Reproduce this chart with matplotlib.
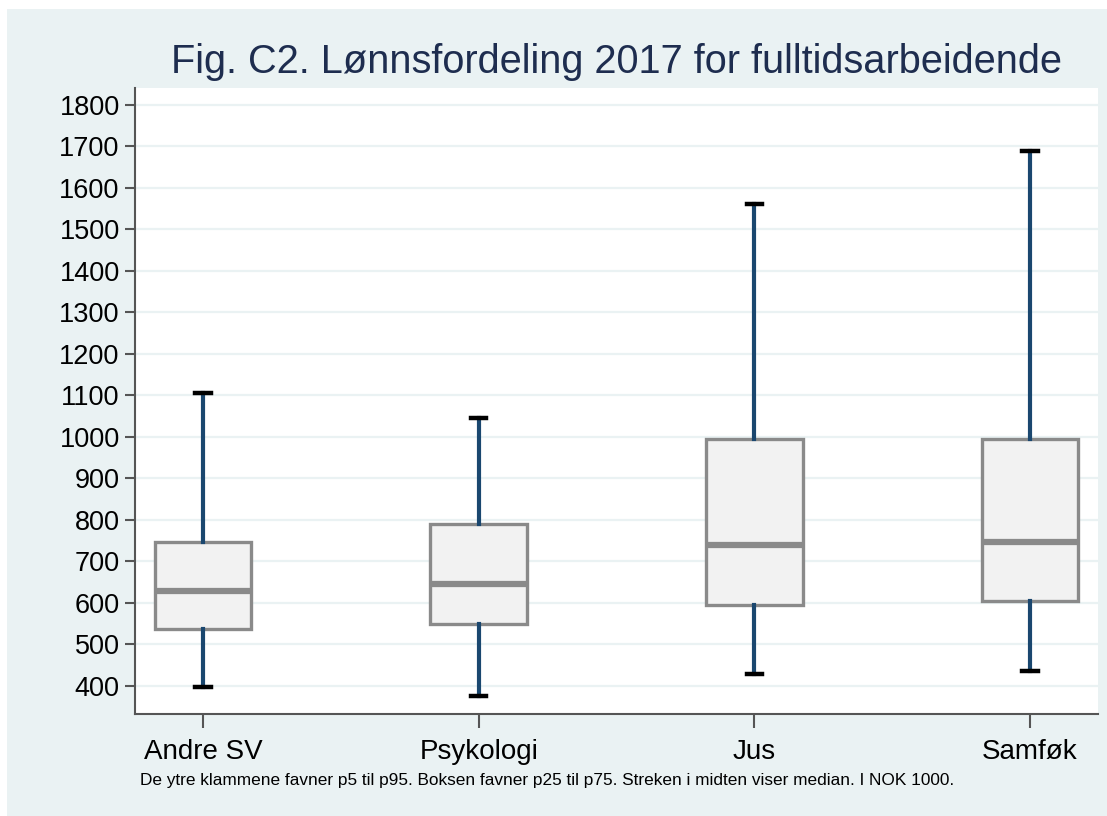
import matplotlib
matplotlib.use("Agg")
import matplotlib.pyplot as plt
from matplotlib.patches import Rectangle

# Lønnsfordeling 2017, NOK 1000
groups = ["Andre SV", "Psykologi", "Jus", "Samføk"]
p5 = [397, 376, 429, 436]
p25 = [536, 548, 595, 605]
median = [629, 646, 739, 747]
p75 = [746, 790, 995, 994]
p95 = [1105, 1046, 1561, 1689]
yticks = list(range(400, 1900, 100))

bg = "#eaf2f3"
navy = "#1a476f"
plt.rcParams["font.family"] = ["Liberation Sans", "DejaVu Sans"]

fig = plt.figure(figsize=(11.07, 8.16), dpi=100)
fig.patch.set_facecolor("white")
fig.patches.append(Rectangle((7 / 1107, 0), 1, 1 - 9 / 816, transform=fig.transFigure,
                             facecolor=bg, edgecolor="none", zorder=-10))

ax = fig.add_axes([135 / 1107, 1 - 714 / 816, (1098 - 135) / 1107, (714 - 88) / 816])
ax.set_facecolor("white")

stats = []
for i, g in enumerate(groups):
    stats.append(dict(label=g, whislo=p5[i], q1=p25[i], med=median[i], q3=p75[i], whishi=p95[i], fliers=[]))

pos = list(range(1, len(groups) + 1))
ax.bxp(stats, positions=pos, widths=0.35, patch_artist=True, showfliers=False,
       capwidths=0.055,
       boxprops=dict(facecolor="#f2f2f2", edgecolor="#8a8a8a", linewidth=2.4),
       medianprops=dict(color="#8a8a8a", linewidth=4.5, solid_capstyle="butt"),
       whiskerprops=dict(color=navy, linewidth=3),
       capprops=dict(color="black", linewidth=3.2))

ax.set_xlim(0.753, 4.247)
ax.set_ylim(332, 1841)
ax.set_yticks(yticks)
ax.set_yticklabels([str(v) for v in yticks])
ax.set_xticks(pos)
ax.set_xticklabels(groups)
ax.grid(axis="y", color=bg, linewidth=1.6)
ax.set_axisbelow(True)

for s in ["top", "right"]:
    ax.spines[s].set_visible(False)
for s in ["left", "bottom"]:
    ax.spines[s].set_color("#555555")
    ax.spines[s].set_linewidth(1.5)

ax.tick_params(axis="y", length=7, width=1.5, color="#555555", labelsize=19.5, pad=4, labelcolor="black")
ax.tick_params(axis="x", length=10, width=1.5, color="#555555", labelsize=20, pad=8, labelcolor="black")

fig.text((135 + 1098) / 2 / 1107, 1 - 62 / 816, "Fig. C2. Lønnsfordeling 2017 for fulltidsarbeidende",
         ha="center", va="center", fontsize=28.6, color="#1e2d4f")
fig.text(140 / 1107, 1 - 780 / 816,
         "De ytre klammene favner p5 til p95. Boksen favner p25 til p75. Streken i midten viser median. I NOK 1000.",
         ha="left", va="center", fontsize=12.4, color="black")

fig.savefig("out.png", dpi=100, facecolor=fig.get_facecolor())
